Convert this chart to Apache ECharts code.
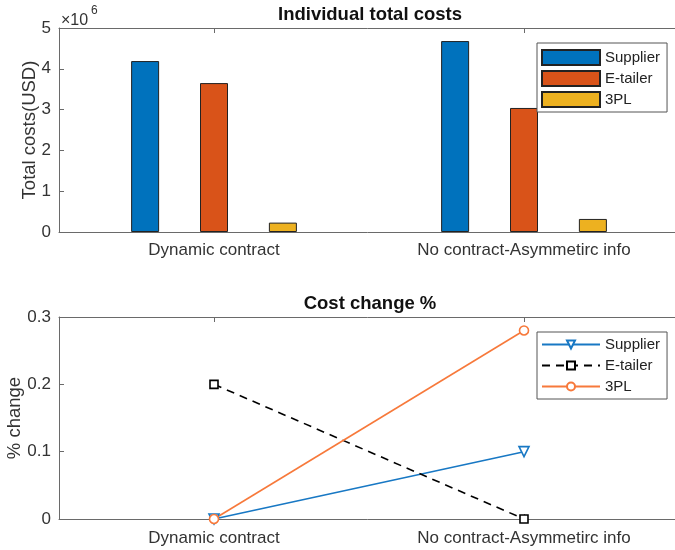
<!DOCTYPE html>
<html>
<head>
<meta charset="utf-8">
<script src="https://cdn.jsdelivr.net/npm/echarts@6/dist/echarts.min.js"></script>
<style>
html,body{margin:0;padding:0;background:#fff;}
#chart{width:675px;height:550px;}
</style>
</head>
<body>
<div id="chart"></div>
<script>
// ---- data ----
const categories = ['Dynamic contract', 'No contract-Asymmetirc info'];
const seriesNames = ['Supplier', 'E-tailer', '3PL'];
const supplierCost = [4.19e6, 4.68e6];
const etailerCost = [3.65e6, 3.04e6];
const tplCost = [0.23e6, 0.32e6];
const supplierChange = [0, 0.1];
const etailerChange = [0.2, 0];
const tplChange = [0, 0.28];
const costTicks = [0, 1, 2, 3, 4, 5];
const changeTicks = [0, 0.1, 0.2, 0.3];

const FONT = '"Liberation Sans", Arial, sans-serif';
const AX = '#6a6a6a';
const TXT = '#333';
const barColors = ['#0072BD', '#D95319', '#EDB120'];
const lineColors = ['#1878C4', '#000000', '#F7793B'];
const SUF = ' (change)';

const chart = echarts.init(document.getElementById('chart'), null, {renderer: 'canvas'});

function xAxisPair(gi) {
  return [{
    type: 'category', gridIndex: gi, data: categories, position: 'bottom',
    axisLine: {show: true, lineStyle: {color: AX, width: 1}},
    axisTick: {show: true, inside: true, alignWithLabel: true, length: 5, lineStyle: {color: AX}},
    axisLabel: {show: true, fontFamily: FONT, fontSize: 17, color: TXT, margin: gi === 0 ? 10 : 11},
    splitLine: {show: false}
  }, {
    type: 'category', gridIndex: gi, data: categories, position: 'top',
    axisLine: {show: true, onZero: false, lineStyle: {color: AX, width: 1}},
    axisTick: {show: true, inside: true, alignWithLabel: true, length: 5, lineStyle: {color: AX}},
    axisLabel: {show: false}, splitLine: {show: false}
  }];
}

const option = {
  backgroundColor: '#fff',
  animation: false,
  grid: [
    {left: 59, right: -4, top: 28, height: 204, containLabel: false, outerBoundsMode: 'none'},
    {left: 59, right: -4, top: 317, height: 202, containLabel: false, outerBoundsMode: 'none'}
  ],
  xAxis: [...xAxisPair(0), ...xAxisPair(1)],
  yAxis: [{
    type: 'value', gridIndex: 0, min: costTicks[0] * 1e6, max: costTicks[costTicks.length - 1] * 1e6, interval: 1e6,
    name: 'Total costs(USD)', nameLocation: 'middle', nameRotate: 90, nameGap: 20, nameMoveOverlap: false,
    nameTextStyle: {fontFamily: FONT, fontSize: 18.5, color: TXT},
    axisLine: {show: true, lineStyle: {color: AX}},
    axisTick: {show: true, inside: true, length: 5, lineStyle: {color: AX}},
    axisLabel: {fontFamily: FONT, fontSize: 17, color: TXT, margin: 8, formatter: v => String(v / 1e6)},
    splitLine: {show: false}
  }, {
    type: 'value', gridIndex: 1, min: changeTicks[0], max: changeTicks[changeTicks.length - 1], interval: 0.1,
    name: '% change', nameLocation: 'middle', nameRotate: 90, nameGap: 35, nameMoveOverlap: false,
    nameTextStyle: {fontFamily: FONT, fontSize: 18.5, color: TXT},
    axisLine: {show: true, lineStyle: {color: AX}},
    axisTick: {show: true, inside: true, length: 5, lineStyle: {color: AX}},
    axisLabel: {fontFamily: FONT, fontSize: 17, color: TXT, margin: 8, formatter: v => String(Math.round(v * 10) / 10)},
    splitLine: {show: false}
  }],
  legend: [{
    orient: 'vertical', left: 537, top: 43, data: seriesNames,
    icon: 'rect', itemWidth: 58, itemHeight: 15, itemGap: 4,
    padding: [6, 7, 4, 4], borderColor: '#555', borderWidth: 1, backgroundColor: '#fff',
    textStyle: {fontFamily: FONT, fontSize: 15, color: '#222'},
    selectedMode: false
  }, {
    orient: 'vertical', left: 537, top: 332, data: seriesNames.map(n => n + SUF),
    itemWidth: 58, itemHeight: 10, itemGap: 6,
    padding: [5, 7, 5, 4], borderColor: '#555', borderWidth: 1, backgroundColor: '#fff',
    textStyle: {fontFamily: FONT, fontSize: 15, color: '#222'},
    formatter: n => n.replace(SUF, ''),
    selectedMode: false
  }],
  graphic: [
    {type: 'text', style: {x: 370, y: 15, text: 'Individual total costs', font: 'bold 18.5px ' + FONT, fill: '#111', textAlign: 'center', textVerticalAlign: 'middle'}},
    {type: 'text', style: {x: 61, y: 13, text: '\u00d710', font: '16px ' + FONT, fill: TXT}},
    {type: 'text', style: {x: 91, y: 5, text: '6', font: '12px ' + FONT, fill: TXT}},
    {type: 'text', style: {x: 370, y: 304, text: 'Cost change %', font: 'bold 18.5px ' + FONT, fill: '#111', textAlign: 'center', textVerticalAlign: 'middle'}}
  ],
  series: [
    {name: seriesNames[0], type: 'bar', xAxisIndex: 0, yAxisIndex: 0, data: supplierCost, barWidth: 28, barGap: '146%',
      itemStyle: {color: barColors[0], borderColor: '#222', borderWidth: 1}},
    {name: seriesNames[1], type: 'bar', xAxisIndex: 0, yAxisIndex: 0, data: etailerCost, barWidth: 28, barGap: '146%',
      itemStyle: {color: barColors[1], borderColor: '#222', borderWidth: 1}},
    {name: seriesNames[2], type: 'bar', xAxisIndex: 0, yAxisIndex: 0, data: tplCost, barWidth: 28, barGap: '146%',
      itemStyle: {color: barColors[2], borderColor: '#222', borderWidth: 1}},
    {name: seriesNames[0] + SUF, type: 'line', xAxisIndex: 2, yAxisIndex: 1, data: supplierChange,
      symbol: 'triangle', symbolRotate: 180, symbolSize: 10,
      lineStyle: {color: lineColors[0], width: 1.6},
      itemStyle: {color: '#fff', borderColor: lineColors[0], borderWidth: 1.6}},
    {name: seriesNames[1] + SUF, type: 'line', xAxisIndex: 2, yAxisIndex: 1, data: etailerChange,
      symbol: 'rect', symbolSize: 8,
      lineStyle: {color: lineColors[1], width: 1.6, type: [8, 6]},
      itemStyle: {color: '#fff', borderColor: lineColors[1], borderWidth: 1.6}},
    {name: seriesNames[2] + SUF, type: 'line', xAxisIndex: 2, yAxisIndex: 1, data: tplChange,
      symbol: 'circle', symbolSize: 9,
      lineStyle: {color: lineColors[2], width: 1.6},
      itemStyle: {color: '#fff', borderColor: lineColors[2], borderWidth: 1.6}}
  ]
};
chart.setOption(option);
</script>
</body>
</html>
